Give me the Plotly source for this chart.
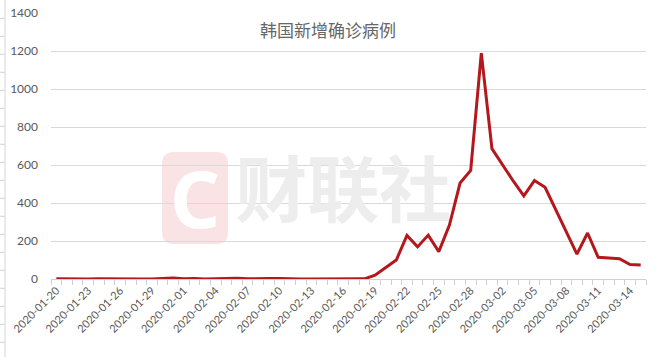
import plotly.graph_objects as go

# ---------------- data ----------------
dates = [
    "2020-01-20", "2020-01-21", "2020-01-22", "2020-01-23", "2020-01-24", "2020-01-25",
    "2020-01-26", "2020-01-27", "2020-01-28", "2020-01-29", "2020-01-30", "2020-01-31",
    "2020-02-01", "2020-02-02", "2020-02-03", "2020-02-04", "2020-02-05", "2020-02-06",
    "2020-02-07", "2020-02-08", "2020-02-09", "2020-02-10", "2020-02-11", "2020-02-12",
    "2020-02-13", "2020-02-14", "2020-02-15", "2020-02-16", "2020-02-17", "2020-02-18",
    "2020-02-19", "2020-02-20", "2020-02-21", "2020-02-22", "2020-02-23", "2020-02-24",
    "2020-02-25", "2020-02-26", "2020-02-27", "2020-02-28", "2020-02-29", "2020-03-01",
    "2020-03-02", "2020-03-03", "2020-03-04", "2020-03-05", "2020-03-06", "2020-03-07",
    "2020-03-08", "2020-03-09", "2020-03-10", "2020-03-11", "2020-03-12", "2020-03-13",
    "2020-03-14", "2020-03-15",
]
new_cases = [
    1, 0, 0, 0, 1, 0,
    1, 1, 0, 0, 2, 5,
    1, 3, 0, 1, 3, 4,
    1, 0, 2, 2, 0, 0,
    0, 0, 0, 1, 1, 1,
    20, 58, 100, 229, 169, 231,
    144, 284, 505, 571, 1189, 686,
    600, 516, 438, 518, 483, 367,
    248, 131, 242, 114, 110, 107,
    76, 74,
]
x_labels = [d if i % 3 == 0 else "" for i, d in enumerate(dates)]
y_ticks = [0, 200, 400, 600, 800, 1000, 1200, 1400]
title_text = "韩国新增确诊病例"
watermark_text = "财联社"

# ---------------- layout constants ----------------
W, H = 662, 357
ML, MR, MT, MB = 51, 16, 13, 78
PW, PH = W - ML - MR, H - MT - MB


def px_to_paper_x(px):
    return (px - ML) / PW


def px_to_paper_y(py):
    return 1 - (py - MT) / PH


GRAY_TXT = "#595959"
LINE_RED = "#b3181d"

fig = go.Figure()

# watermark text (drawn beneath the line)
fig.add_trace(go.Scatter(
    x=[dates[27]], y=[425], mode="text", text=[watermark_text],
    textfont=dict(family="Noto Sans CJK SC", size=72, color="#ededed", weight="bold"),
    hoverinfo="skip", showlegend=False, cliponaxis=False,
))

fig.add_trace(go.Scatter(
    x=dates, y=new_cases, mode="lines",
    line=dict(color=LINE_RED, width=3),
    showlegend=False,
))

shapes = []
# watermark logo: rounded pink square
x0, x1 = px_to_paper_x(162), px_to_paper_x(228)
y0, y1 = px_to_paper_y(244), px_to_paper_y(152)
rx = (x1 - x0) * 0.18
ry = (y1 - y0) * 0.13
path = (f"M {x0+rx},{y0} L {x1-rx},{y0} Q {x1},{y0} {x1},{y0+ry} "
        f"L {x1},{y1-ry} Q {x1},{y1} {x1-rx},{y1} L {x0+rx},{y1} "
        f"Q {x0},{y1} {x0},{y1-ry} L {x0},{y0+ry} Q {x0},{y0} {x0+rx},{y0} Z")
shapes.append(dict(type="path", path=path, xref="paper", yref="paper",
                   fillcolor="#fae3e5", line=dict(width=0), layer="below"))

# left spreadsheet-like decoration line with small ticks
lx = px_to_paper_x(5)
shapes.append(dict(type="line", xref="paper", yref="paper",
                   x0=lx, x1=lx, y0=px_to_paper_y(H), y1=px_to_paper_y(0),
                   line=dict(color="#d4d4d4", width=1)))
for k in range(1, 20):
    yy = px_to_paper_y(18 * k + 0.3)
    shapes.append(dict(type="line", xref="paper", yref="paper",
                       x0=px_to_paper_x(0), x1=lx, y0=yy, y1=yy,
                       line=dict(color="#d4d4d4", width=1)))

annotations = [
    dict(text="C", xref="paper", yref="paper",
         x=px_to_paper_x(195), y=px_to_paper_y(198), showarrow=False,
         font=dict(family="Noto Sans", size=78, color="#ffffff", weight="bold"),
         xanchor="center", yanchor="middle"),
]

fig.update_layout(
    width=W, height=H,
    margin=dict(l=ML, r=MR, t=MT, b=MB),
    paper_bgcolor="white", plot_bgcolor="white",
    font=dict(family="Lato, 'Noto Sans CJK SC'", color=GRAY_TXT),
    title=dict(text=title_text, x=328 / W, y=1 - 31.5 / H,
               xanchor="center", yanchor="middle",
               font=dict(family="Noto Sans CJK SC", size=17, color="#666666")),
    shapes=shapes,
    annotations=annotations,
    showlegend=False,
)

fig.update_xaxes(
    type="category", categoryorder="array", categoryarray=dates,
    range=[-0.5, len(dates) - 0.5],
    tickmode="array", tickvals=dates, ticktext=x_labels,
    tickson="boundaries", ticks="outside", ticklen=5, tickcolor="#d0d0d0",
    tickangle=-45, tickfont=dict(size=11, color=GRAY_TXT),
    showline=True, linecolor="#d0d0d0", linewidth=1,
    showgrid=False, zeroline=False, automargin=False,
)
fig.update_yaxes(
    range=[0, 1400], tickmode="array", tickvals=y_ticks,
    showgrid=True, gridcolor="#d9d9d9", gridwidth=1,
    zeroline=False, showline=False, ticks="",
    ticklabelstandoff=12,
    tickfont=dict(size=12, color=GRAY_TXT), automargin=False,
)

fig.write_html("out.html", config={"displayModeBar": False},
               post_script="document.body.style.margin='0';")
